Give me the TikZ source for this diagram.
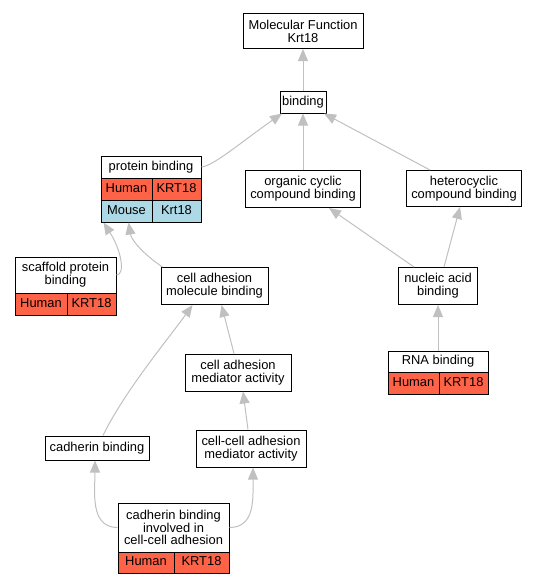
\documentclass[tikz,border=0pt]{standalone}
\usepackage{fontspec}
\setmainfont{Liberation Sans}
\usetikzlibrary{arrows.meta}

\definecolor{human}{HTML}{FF6347}
\definecolor{mouse}{HTML}{ADD8E6}
\definecolor{edgegray}{HTML}{C0C0C0}

\tikzset{
	term/.style={draw, fill=white, line width=1pt, align=center, inner sep=0pt,
		font=\fontsize{12.9}{12.8}\selectfont},
	oneline/.style={text height=9.2pt, text depth=2.6pt},
	cell/.style={term, oneline, minimum height=22pt},
	isa/.style={draw=edgegray, line width=1pt, -{Triangle[length=12pt,width=10pt]}}
}

\begin{document}
\begin{tikzpicture}[x=1pt, y=-1pt]
		\useasboundingbox (0,0) rectangle (537,584);
		% terms
		\node[term, minimum width=120pt, minimum height=35pt] (mf) at (303,31) {Molecular Function\\Krt18};
		\node[term, oneline, minimum width=46pt, minimum height=22pt] (bind) at (303,102) {binding};
		\node[term, oneline, minimum width=100pt, minimum height=22pt] (prot) at (151,167) {protein binding};
		\node[cell, fill=human, minimum width=51pt] (protH) at (126.5,189) {Human};
		\node[cell, fill=human, minimum width=49pt] (protHg) at (176.5,189) {KRT18};
		\node[cell, fill=mouse, minimum width=51pt] (protM) at (126.5,211) {Mouse};
		\node[cell, fill=mouse, minimum width=49pt] (protMg) at (176.5,211) {Krt18};
		\node[term, minimum width=115pt, minimum height=37pt] (orgc) at (303,189) {organic cyclic\\compound binding};
		\node[term, minimum width=115pt, minimum height=36pt] (hetc) at (464,188.5) {heterocyclic\\compound binding};
		\node[term, minimum width=101pt, minimum height=36pt] (scaf) at (65.5,275) {scaffold protein\\binding};
		\node[cell, fill=human, minimum width=52pt] (scafH) at (41,304) {Human};
		\node[cell, fill=human, minimum width=49pt] (scafHg) at (91.5,304) {KRT18};
		\node[term, minimum width=107pt, minimum height=37pt] (cam) at (214.5,286) {cell adhesion\\molecule binding};
		\node[term, minimum width=79pt, minimum height=37pt] (nab) at (438,286) {nucleic acid\\binding};
		\node[term, oneline, minimum width=100pt, minimum height=21pt] (rna) at (438,361.5) {RNA binding};
		\node[cell, fill=human, minimum width=51pt] (rnaH) at (413.5,383.5) {Human};
		\node[cell, fill=human, minimum width=49pt] (rnaHg) at (463.5,383.5) {KRT18};
		\node[term, minimum width=106pt, minimum height=37pt] (cama) at (238,372.5) {cell adhesion\\mediator activity};
		\node[term, oneline, minimum width=104pt, minimum height=24pt] (cadb) at (97,448) {cadherin binding};
		\node[term, minimum width=110pt, minimum height=37pt] (ccam) at (251,448.5) {cell-cell adhesion\\mediator activity};
		\node[term, minimum width=111pt, minimum height=49pt] (cbi) at (173.5,527.5) {cadherin binding\\involved in\\cell-cell adhesion};
		\node[cell, fill=human, minimum width=56pt, minimum height=21pt] (cbiH) at (146,562.5) {Human};
		\node[cell, fill=human, minimum width=55pt, minimum height=21pt] (cbiHg) at (201.5,562.5) {KRT18};
		% is_a links
		\draw[isa] (bind.north) -- (mf.south);
		\draw[isa] (prot.east) .. controls +(12,-1) and +(-40,28) .. ([xshift=-21pt]bind.south);
		\draw[isa] (orgc.north) -- (bind.south);
		\draw[isa] ([xshift=-34pt]hetc.north) -- ([xshift=21pt]bind.south);
		\draw[isa] (scaf.east) .. controls +(9,0) and +(18,28) .. ([xshift=3pt]protM.south west);
		\draw[isa] ([xshift=2pt]cam.north west) .. controls +(-18,-12) and +(3,18) .. ([xshift=2pt]protM.south);
		\draw[isa] ([xshift=-24pt]nab.north) -- ([xshift=26pt]orgc.south);
		\draw[isa] ([xshift=6pt]nab.north) -- ([xshift=-4pt]hetc.south);
		\draw[isa] (rna.north) -- (nab.south);
		\draw[isa] ([xshift=-4pt]cama.north) -- ([xshift=7pt]cam.south);
		\draw[isa] ([xshift=6pt]cadb.north) .. controls +(22,-45) and +(-25,35) .. ([xshift=-22pt]cam.south);
		\draw[isa] ([xshift=-3pt]ccam.north) -- ([xshift=5pt]cama.south);
		\draw[isa] (cbi.west) .. controls +(-28,0) and +(0,30) .. ([xshift=-2pt]cadb.south);
		\draw[isa] (cbi.east) .. controls +(26,0) and +(0,30) .. ([xshift=2pt]ccam.south);
\end{tikzpicture}
\end{document}
